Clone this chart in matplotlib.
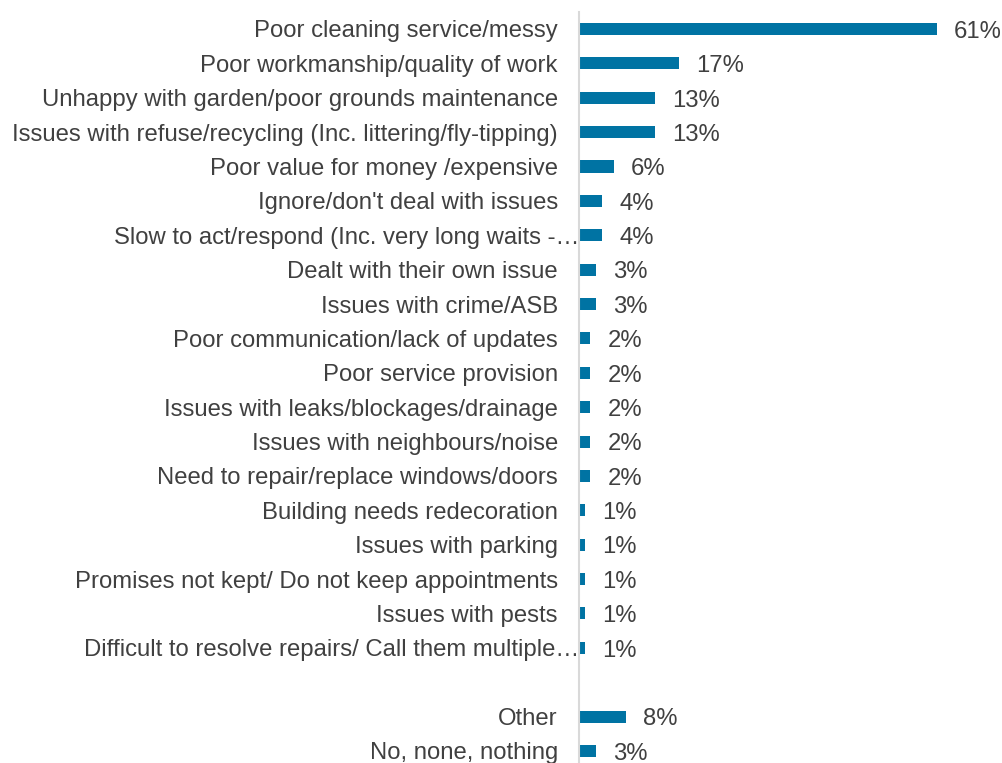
import matplotlib
matplotlib.use("Agg")
import matplotlib.pyplot as plt
import matplotlib.transforms as mtransforms
import numpy as np

plt.rcParams["font.family"] = ["Liberation Sans", "DejaVu Sans"]

categories = [
    "Poor cleaning service/messy",
    "Poor workmanship/quality of work",
    "Unhappy with garden/poor grounds maintenance",
    "Issues with refuse/recycling (Inc. littering/fly-tipping)",
    "Poor value for money /expensive",
    "Ignore/don't deal with issues",
    "Slow to act/respond (Inc. very long waits -\u2026",
    "Dealt with their own issue",
    "Issues with crime/ASB",
    "Poor communication/lack of updates",
    "Poor service provision",
    "Issues with leaks/blockages/drainage",
    "Issues with neighbours/noise",
    "Need to repair/replace windows/doors",
    "Building needs redecoration",
    "Issues with parking",
    "Promises not kept/ Do not keep appointments",
    "Issues with pests",
    "Difficult to resolve repairs/ Call them multiple\u2026",
    "",
    "Other",
    "No, none, nothing",
]
values = [61, 17, 13, 13, 6, 4, 4, 3, 3, 2, 2, 2, 2, 2, 1, 1, 1, 1, 1, None, 8, 3]

BAR = "#0073a3"
TXT = "#404040"
FS = 17.2

fig = plt.figure(figsize=(10.03, 7.63), dpi=100)
ax = fig.add_axes([0.577, 0.0, 0.423, 751.2 / 763])

pos = np.arange(len(categories))
for y, v in zip(pos, values):
    if v is None:
        continue
    ax.barh(y, v, height=0.35, color=BAR)
    ax.text(v + 2.9, y + 0.08, f"{v}%", va="center", ha="left", fontsize=FS, color=TXT)

ax.set_yticks(pos)
ax.set_yticklabels(categories, fontsize=FS, color=TXT)
ax.tick_params(axis="y", length=0, pad=15)

# truncated labels run right up to the axis line
for lbl in ax.get_yticklabels():
    if lbl.get_text().endswith("\u2026"):
        lbl.set_transform(lbl.get_transform() + mtransforms.ScaledTranslation(
            21 / 100, 0, fig.dpi_scale_trans))

ax.set_xticks([])
ax.set_xlim(0, 72.2)
ax.set_ylim(21.35, -0.5)
for s in ["top", "right", "bottom"]:
    ax.spines[s].set_visible(False)
ax.spines["left"].set_color("#d9d9d9")
ax.spines["left"].set_linewidth(1.5)

fig.savefig("out.png", dpi=100)
